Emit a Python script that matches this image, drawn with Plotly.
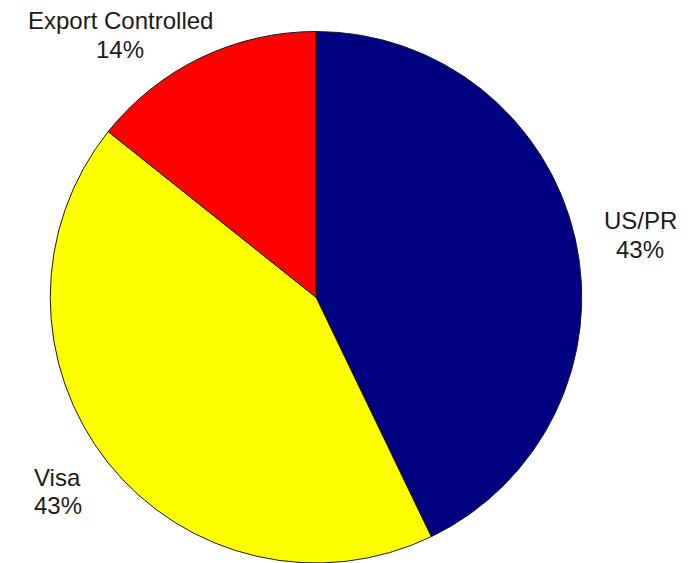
import plotly.graph_objects as go

# Data
labels = ["US/PR", "Visa", "Export Controlled"]
values = [3, 3, 1]
colors = ["#000080", "#FFFF00", "#FF0000"]

total = sum(values)
percents = [round(v / total * 100) for v in values]

# page body has an 8px margin; size the figure so it fits the window
OFF = 8
W, H = 693 - OFF, 563 - OFF

cx, cy, r = 316 - OFF, 297.5 - OFF, 266

fig = go.Figure(
    go.Pie(
        labels=labels,
        values=values,
        sort=False,
        direction="clockwise",
        rotation=0,
        textinfo="none",
        hoverinfo="label+percent",
        marker=dict(colors=colors, line=dict(color="#1a1a1a", width=1)),
        domain=dict(x=[(cx - r) / W, (cx + r) / W], y=[0, 1 - (cy - r) / H]),
        showlegend=False,
    )
)

# label anchor positions in screen pixels (layout only): x, y of name line, y of percent line
label_pos = {"US/PR": (640, 220, 249), "Visa": (58, 477, 505), "Export Controlled": (120, 21, 49)}

font = dict(family="Liberation Sans, Arial, sans-serif", size=24, color="#1a1a1a")
for lab, pct in zip(labels, percents):
    px, py1, py2 = label_pos[lab]
    for txt, py in ((lab, py1), (f"{pct}%", py2)):
        fig.add_annotation(
            x=(px - OFF) / W, y=1 - (py - OFF) / H, xref="paper", yref="paper",
            text=txt, showarrow=False, borderpad=0,
            xanchor="center", yanchor="middle", align="center",
            font=font,
        )

fig.update_layout(
    width=W, height=H,
    margin=dict(l=0, r=0, t=0, b=0),
    paper_bgcolor="white", plot_bgcolor="white",
)

fig.write_html("out.html")
